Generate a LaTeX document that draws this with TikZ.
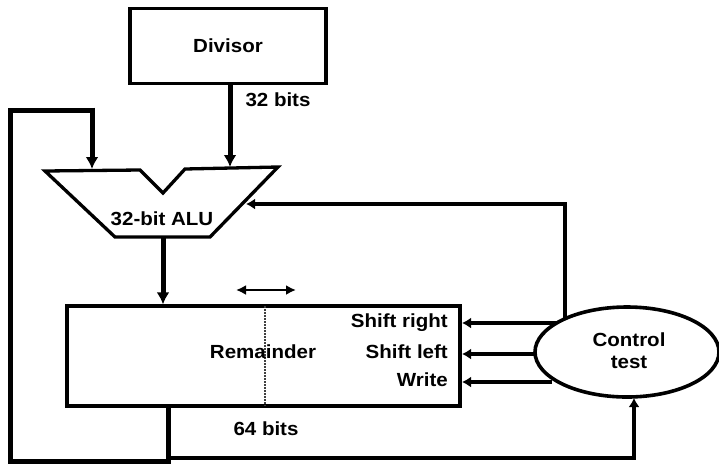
\documentclass[tikz,border=0pt]{standalone}
\usepackage{fontspec}
\setmainfont{Liberation Sans}[FakeStretch=1.08]
\usetikzlibrary{arrows.meta,shapes.geometric}
\begin{document}
\begin{tikzpicture}[x=1pt,y=-1pt,
  lbl/.style={font=\fontsize{19}{22}\selectfont\bfseries, inner sep=0pt},
  boxstyle/.style={draw, line width=3.3pt, inner sep=0pt},
  data/.style={line width=5pt, -{Latex[length=12pt,width=13pt]}},
  ctrl/.style={line width=3.6pt, -{Latex[length=9pt,width=11pt]}},
  bus/.style={line width=5pt}]
\useasboundingbox (0,0) rectangle (719,469);
% Divisor
\node[boxstyle, minimum width=196pt, minimum height=75pt] (div) at (228,46) {};
\node[lbl] (divt) at (228,46) {Divisor};
% ALU shape
\draw[line width=3.3pt, line join=miter] (45,171) -- (140,170) -- (163,193) -- (185,169) -- (278,167) -- (210,237) -- (115,237) -- cycle;
\node[lbl] (alut) at (162,219) {32-bit ALU};
\coordinate (aluL) at (92,169);
\coordinate (aluR) at (230,167);
\coordinate (aluOut) at (163,238);
\coordinate (aluSide) at (246,204);
% Remainder
\node[boxstyle, minimum width=393pt, minimum height=100pt] (rem) at (263.5,356) {};
\draw[line width=2pt, densely dotted, gray!50!black] (265,306) -- (265,406);
\node[lbl] (remt) at (263,352) {Remainder};
\node[lbl, anchor=east] (sr) at (448,323) {Shift right};
\node[lbl, anchor=east] (sl) at (448,352) {Shift left};
\node[lbl, anchor=east] (wr) at (448,380) {Write};
\coordinate (srIn) at (462,323);
\coordinate (slIn) at (462,354);
\coordinate (wrIn) at (462,382);
\coordinate (srOut) at (556,323);
\coordinate (slOut) at (535,354);
\coordinate (wrOut) at (552,382);
% Control
\node[draw, ellipse, line width=3.6pt, minimum width=184pt, minimum height=90pt, inner sep=0pt] (ctl) at (627,352) {};
\node[lbl, align=center] (ctlt) at (629,351) {Control\\test};
% labels
\node[lbl] (b32) at (278,100) {32 bits};
\node[lbl] (b64) at (266,429) {64 bits};
% double arrow
\coordinate (dl) at (236,290);
\coordinate (dr) at (296,290);
\draw[line width=2.4pt, {Latex[length=10pt,width=10pt]}-{Latex[length=10pt,width=10pt]}] (dl) -- (dr);
% data arrows
\draw[data] (div.south -| aluR) -- (aluR);
\draw[data] (aluOut) -- (aluOut |- rem.north);
% feedback loop
\coordinate (fbL) at (10,110);
\coordinate (fbB) at (10,461);
\coordinate (remB) at (168,406);
\coordinate (fbT) at (92,110);
\draw[bus, line join=miter] (remB) -- (168,461) -- (fbB) -- (fbL) -- (fbT);
\draw[data] (fbT) ++(0,-2.5) -- (aluL);
\coordinate (ctlB) at (634,458);
\coordinate (ctlIn) at (634,398);
\draw[ctrl, line join=miter] (168,458) -- (ctlB) -- (ctlIn);
% control arrows
\draw[ctrl] (srOut) -- (srIn);
\draw[ctrl] (slOut) -- (slIn);
\draw[ctrl] (wrOut) -- (wrIn);
\coordinate (ctlTop) at (565,319);
\coordinate (ctlCorner) at (565,204);
\draw[ctrl, line join=miter] (ctlTop) -- (ctlCorner) -- (aluSide);
\end{tikzpicture}
\end{document}
